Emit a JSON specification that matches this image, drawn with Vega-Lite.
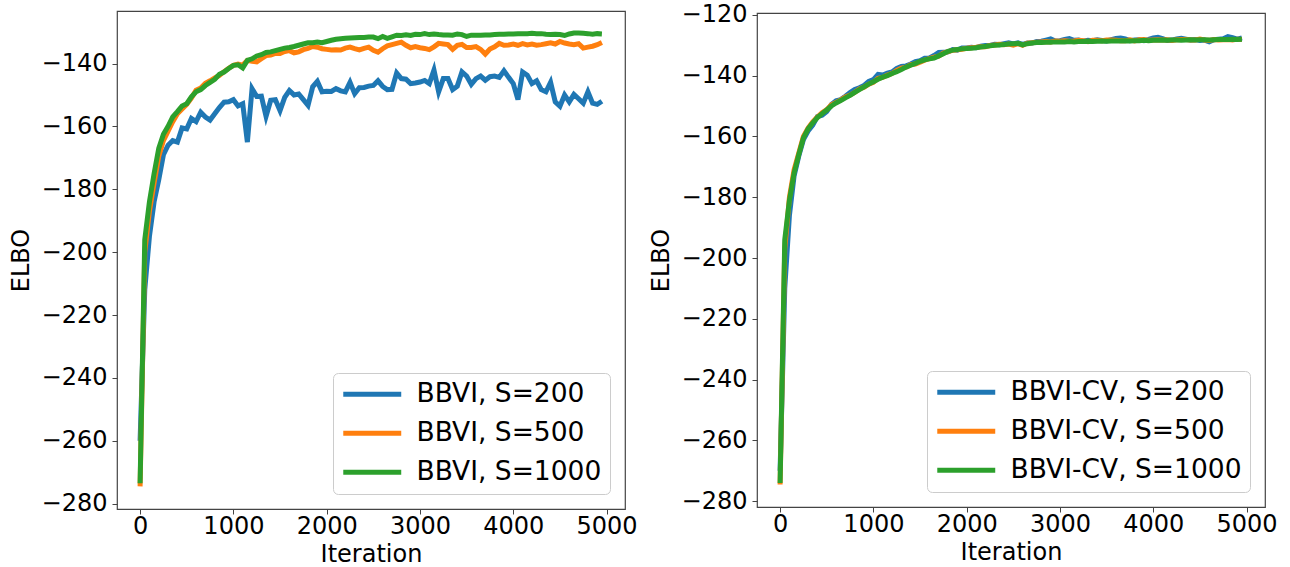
{
  "$schema": "https://vega.github.io/schema/vega-lite/v6.json",
  "padding": {"left": 8, "top": 2, "right": 5, "bottom": 5},
  "config": {
    "font": "DejaVu Sans",
    "view": {"stroke": "#444", "strokeWidth": 1.2},
    "axis": {"labelFontSize": 24, "titleFontSize": 24, "titleFontWeight": "normal", "labelColor": "#000", "titleColor": "#000", "domain": false, "grid": false, "tickColor": "#444", "tickSize": 5, "labelFlush": false, "labelOverlap": false},
    "axisY": {"titlePadding": 8, "labelPadding": 5},
    "axisX": {"titlePadding": 4, "labelPadding": 0},
    "legend": {"orient": "bottom-right", "offset": 15, "padding": 8, "fillColor": "#fff", "strokeColor": "#ccc", "cornerRadius": 5, "symbolType": "M-4,0H4", "symbolSize": 210, "symbolOffset": 18, "symbolStrokeWidth": 5, "labelFontSize": 26.5, "labelColor": "#000", "labelOffset": 31, "labelLimit": 400, "rowPadding": 12, "title": null},
    "concat": {"spacing": 132},
    "line": {"strokeWidth": 5}
  },
  "datasets": {
    "left": [
      {"iter":0,"BBVI, S=200":-260,"BBVI, S=500":-274.5,"BBVI, S=1000":-273.5},
      {"iter":50,"BBVI, S=200":-212,"BBVI, S=500":-200,"BBVI, S=1000":-196},
      {"iter":100,"BBVI, S=200":-195,"BBVI, S=500":-187,"BBVI, S=1000":-184},
      {"iter":150,"BBVI, S=200":-184,"BBVI, S=500":-178,"BBVI, S=1000":-175},
      {"iter":200,"BBVI, S=200":-177,"BBVI, S=500":-169.5,"BBVI, S=1000":-167},
      {"iter":250,"BBVI, S=200":-169,"BBVI, S=500":-164.5,"BBVI, S=1000":-162.5},
      {"iter":300,"BBVI, S=200":-166,"BBVI, S=500":-161.5,"BBVI, S=1000":-160},
      {"iter":350,"BBVI, S=200":-164.5,"BBVI, S=500":-158.5,"BBVI, S=1000":-157},
      {"iter":400,"BBVI, S=200":-165,"BBVI, S=500":-156,"BBVI, S=1000":-155.3},
      {"iter":450,"BBVI, S=200":-160.5,"BBVI, S=500":-154.5,"BBVI, S=1000":-153.5},
      {"iter":500,"BBVI, S=200":-160.8,"BBVI, S=500":-153,"BBVI, S=1000":-152.8},
      {"iter":550,"BBVI, S=200":-157.5,"BBVI, S=500":-151,"BBVI, S=1000":-150.6},
      {"iter":600,"BBVI, S=200":-158.5,"BBVI, S=500":-148.5,"BBVI, S=1000":-149},
      {"iter":650,"BBVI, S=200":-155.5,"BBVI, S=500":-147.8,"BBVI, S=1000":-148.3},
      {"iter":700,"BBVI, S=200":-157,"BBVI, S=500":-146.3,"BBVI, S=1000":-147},
      {"iter":750,"BBVI, S=200":-158,"BBVI, S=500":-145.5,"BBVI, S=1000":-146},
      {"iter":800,"BBVI, S=200":-156,"BBVI, S=500":-144.6,"BBVI, S=1000":-145},
      {"iter":850,"BBVI, S=200":-154,"BBVI, S=500":-143.8,"BBVI, S=1000":-143.4},
      {"iter":900,"BBVI, S=200":-152.3,"BBVI, S=500":-142.6,"BBVI, S=1000":-142.7},
      {"iter":950,"BBVI, S=200":-152.2,"BBVI, S=500":-141.5,"BBVI, S=1000":-141.6},
      {"iter":1000,"BBVI, S=200":-151.5,"BBVI, S=500":-140.6,"BBVI, S=1000":-140.6},
      {"iter":1050,"BBVI, S=200":-153.5,"BBVI, S=500":-140.2,"BBVI, S=1000":-140.4},
      {"iter":1100,"BBVI, S=200":-152.8,"BBVI, S=500":-140.5,"BBVI, S=1000":-141.4},
      {"iter":1150,"BBVI, S=200":-165,"BBVI, S=500":-139,"BBVI, S=1000":-139},
      {"iter":1200,"BBVI, S=200":-148,"BBVI, S=500":-139.3,"BBVI, S=1000":-138.5},
      {"iter":1250,"BBVI, S=200":-150.5,"BBVI, S=500":-139.5,"BBVI, S=1000":-137.6},
      {"iter":1300,"BBVI, S=200":-150.4,"BBVI, S=500":-138.5,"BBVI, S=1000":-137.2},
      {"iter":1350,"BBVI, S=200":-156.8,"BBVI, S=500":-137.5,"BBVI, S=1000":-136.5},
      {"iter":1400,"BBVI, S=200":-151.7,"BBVI, S=500":-137.3,"BBVI, S=1000":-136.3},
      {"iter":1450,"BBVI, S=200":-151.5,"BBVI, S=500":-136.8,"BBVI, S=1000":-135.9},
      {"iter":1500,"BBVI, S=200":-155,"BBVI, S=500":-136.8,"BBVI, S=1000":-135.5},
      {"iter":1550,"BBVI, S=200":-150.8,"BBVI, S=500":-136.2,"BBVI, S=1000":-135.1},
      {"iter":1600,"BBVI, S=200":-148.6,"BBVI, S=500":-135.9,"BBVI, S=1000":-134.9},
      {"iter":1650,"BBVI, S=200":-150,"BBVI, S=500":-136.6,"BBVI, S=1000":-134.6},
      {"iter":1700,"BBVI, S=200":-149.7,"BBVI, S=500":-136.3,"BBVI, S=1000":-134.2},
      {"iter":1750,"BBVI, S=200":-151.5,"BBVI, S=500":-135.6,"BBVI, S=1000":-133.8},
      {"iter":1800,"BBVI, S=200":-153.3,"BBVI, S=500":-135.2,"BBVI, S=1000":-133.4},
      {"iter":1850,"BBVI, S=200":-147.4,"BBVI, S=500":-134.6,"BBVI, S=1000":-133.4},
      {"iter":1900,"BBVI, S=200":-145.7,"BBVI, S=500":-134.8,"BBVI, S=1000":-133.2},
      {"iter":1950,"BBVI, S=200":-149,"BBVI, S=500":-135.3,"BBVI, S=1000":-133.4},
      {"iter":2000,"BBVI, S=200":-148.8,"BBVI, S=500":-135.5,"BBVI, S=1000":-133},
      {"iter":2050,"BBVI, S=200":-148.9,"BBVI, S=500":-135.7,"BBVI, S=1000":-132.6},
      {"iter":2100,"BBVI, S=200":-148,"BBVI, S=500":-135.6,"BBVI, S=1000":-132.3},
      {"iter":2150,"BBVI, S=200":-148.7,"BBVI, S=500":-135.7,"BBVI, S=1000":-132.1},
      {"iter":2200,"BBVI, S=200":-149,"BBVI, S=500":-135.1,"BBVI, S=1000":-132},
      {"iter":2250,"BBVI, S=200":-146,"BBVI, S=500":-134.8,"BBVI, S=1000":-131.9},
      {"iter":2300,"BBVI, S=200":-149.6,"BBVI, S=500":-135.3,"BBVI, S=1000":-131.8},
      {"iter":2350,"BBVI, S=200":-147.7,"BBVI, S=500":-135.7,"BBVI, S=1000":-131.7},
      {"iter":2400,"BBVI, S=200":-147.6,"BBVI, S=500":-135.2,"BBVI, S=1000":-131.7},
      {"iter":2450,"BBVI, S=200":-147.2,"BBVI, S=500":-134.8,"BBVI, S=1000":-131.6},
      {"iter":2500,"BBVI, S=200":-147,"BBVI, S=500":-135.8,"BBVI, S=1000":-131.6},
      {"iter":2550,"BBVI, S=200":-145.5,"BBVI, S=500":-136.4,"BBVI, S=1000":-132.1},
      {"iter":2600,"BBVI, S=200":-147.3,"BBVI, S=500":-135.3,"BBVI, S=1000":-131.4},
      {"iter":2650,"BBVI, S=200":-148.3,"BBVI, S=500":-134.4,"BBVI, S=1000":-132},
      {"iter":2700,"BBVI, S=200":-148.2,"BBVI, S=500":-134,"BBVI, S=1000":-131.5},
      {"iter":2750,"BBVI, S=200":-143,"BBVI, S=500":-133.6,"BBVI, S=1000":-131},
      {"iter":2800,"BBVI, S=200":-144.8,"BBVI, S=500":-133.2,"BBVI, S=1000":-131.1},
      {"iter":2850,"BBVI, S=200":-145,"BBVI, S=500":-134.2,"BBVI, S=1000":-130.9},
      {"iter":2900,"BBVI, S=200":-146.4,"BBVI, S=500":-135,"BBVI, S=1000":-131.1},
      {"iter":2950,"BBVI, S=200":-146.2,"BBVI, S=500":-134.6,"BBVI, S=1000":-130.7},
      {"iter":3000,"BBVI, S=200":-145.9,"BBVI, S=500":-135,"BBVI, S=1000":-130.8},
      {"iter":3050,"BBVI, S=200":-145.4,"BBVI, S=500":-135.2,"BBVI, S=1000":-130.5},
      {"iter":3100,"BBVI, S=200":-146.4,"BBVI, S=500":-135.6,"BBVI, S=1000":-130.8},
      {"iter":3150,"BBVI, S=200":-142.1,"BBVI, S=500":-134.7,"BBVI, S=1000":-130.6},
      {"iter":3200,"BBVI, S=200":-149,"BBVI, S=500":-133.6,"BBVI, S=1000":-130.8},
      {"iter":3250,"BBVI, S=200":-144.8,"BBVI, S=500":-133.8,"BBVI, S=1000":-130.9},
      {"iter":3300,"BBVI, S=200":-144.8,"BBVI, S=500":-134,"BBVI, S=1000":-130.9},
      {"iter":3350,"BBVI, S=200":-148.3,"BBVI, S=500":-135.5,"BBVI, S=1000":-131},
      {"iter":3400,"BBVI, S=200":-147.2,"BBVI, S=500":-134.2,"BBVI, S=1000":-130.6},
      {"iter":3450,"BBVI, S=200":-142.7,"BBVI, S=500":-133.9,"BBVI, S=1000":-130.8},
      {"iter":3500,"BBVI, S=200":-144,"BBVI, S=500":-134.9,"BBVI, S=1000":-131.4},
      {"iter":3550,"BBVI, S=200":-146.6,"BBVI, S=500":-134.9,"BBVI, S=1000":-131},
      {"iter":3600,"BBVI, S=200":-144.8,"BBVI, S=500":-134.6,"BBVI, S=1000":-131},
      {"iter":3650,"BBVI, S=200":-144,"BBVI, S=500":-135.5,"BBVI, S=1000":-131},
      {"iter":3700,"BBVI, S=200":-145.3,"BBVI, S=500":-137,"BBVI, S=1000":-130.9},
      {"iter":3750,"BBVI, S=200":-144.2,"BBVI, S=500":-135.4,"BBVI, S=1000":-130.9},
      {"iter":3800,"BBVI, S=200":-144,"BBVI, S=500":-134.7,"BBVI, S=1000":-130.8},
      {"iter":3850,"BBVI, S=200":-144.4,"BBVI, S=500":-133.6,"BBVI, S=1000":-130.7},
      {"iter":3900,"BBVI, S=200":-142.3,"BBVI, S=500":-134.2,"BBVI, S=1000":-130.7},
      {"iter":3950,"BBVI, S=200":-144.4,"BBVI, S=500":-134.1,"BBVI, S=1000":-130.6},
      {"iter":4000,"BBVI, S=200":-146.4,"BBVI, S=500":-133.8,"BBVI, S=1000":-130.6},
      {"iter":4050,"BBVI, S=200":-151.5,"BBVI, S=500":-134.2,"BBVI, S=1000":-130.5},
      {"iter":4100,"BBVI, S=200":-142.7,"BBVI, S=500":-133.7,"BBVI, S=1000":-130.5},
      {"iter":4150,"BBVI, S=200":-143.7,"BBVI, S=500":-134.1,"BBVI, S=1000":-130.5},
      {"iter":4200,"BBVI, S=200":-146.4,"BBVI, S=500":-133.8,"BBVI, S=1000":-130.4},
      {"iter":4250,"BBVI, S=200":-145.5,"BBVI, S=500":-134.2,"BBVI, S=1000":-130.5},
      {"iter":4300,"BBVI, S=200":-148.3,"BBVI, S=500":-134,"BBVI, S=1000":-130.5},
      {"iter":4350,"BBVI, S=200":-149,"BBVI, S=500":-133.7,"BBVI, S=1000":-130.7},
      {"iter":4400,"BBVI, S=200":-146,"BBVI, S=500":-133.4,"BBVI, S=1000":-130.8},
      {"iter":4450,"BBVI, S=200":-152.2,"BBVI, S=500":-133.8,"BBVI, S=1000":-130.7},
      {"iter":4500,"BBVI, S=200":-153.6,"BBVI, S=500":-133,"BBVI, S=1000":-130.8},
      {"iter":4550,"BBVI, S=200":-150,"BBVI, S=500":-133.5,"BBVI, S=1000":-131.1},
      {"iter":4600,"BBVI, S=200":-152.2,"BBVI, S=500":-133.8,"BBVI, S=1000":-130.6},
      {"iter":4650,"BBVI, S=200":-149.8,"BBVI, S=500":-134,"BBVI, S=1000":-130.3},
      {"iter":4700,"BBVI, S=200":-151.2,"BBVI, S=500":-133.7,"BBVI, S=1000":-130.3},
      {"iter":4750,"BBVI, S=200":-152.6,"BBVI, S=500":-135.1,"BBVI, S=1000":-130.4},
      {"iter":4800,"BBVI, S=200":-149,"BBVI, S=500":-134.8,"BBVI, S=1000":-130.5},
      {"iter":4850,"BBVI, S=200":-152.6,"BBVI, S=500":-134.5,"BBVI, S=1000":-130.7},
      {"iter":4900,"BBVI, S=200":-153,"BBVI, S=500":-134,"BBVI, S=1000":-130.5},
      {"iter":4950,"BBVI, S=200":-152,"BBVI, S=500":-133.3,"BBVI, S=1000":-130.6}
    ],
    "right": [
      {"iter":0,"BBVI-CV, S=200":-270,"BBVI-CV, S=500":-274.5,"BBVI-CV, S=1000":-274},
      {"iter":50,"BBVI-CV, S=200":-210,"BBVI-CV, S=500":-197,"BBVI-CV, S=1000":-194},
      {"iter":100,"BBVI-CV, S=200":-186,"BBVI-CV, S=500":-180,"BBVI-CV, S=1000":-181},
      {"iter":150,"BBVI-CV, S=200":-173,"BBVI-CV, S=500":-171,"BBVI-CV, S=1000":-172},
      {"iter":200,"BBVI-CV, S=200":-166.5,"BBVI-CV, S=500":-165.5,"BBVI-CV, S=1000":-166},
      {"iter":250,"BBVI-CV, S=200":-161,"BBVI-CV, S=500":-160,"BBVI-CV, S=1000":-160.5},
      {"iter":300,"BBVI-CV, S=200":-158.2,"BBVI-CV, S=500":-157.3,"BBVI-CV, S=1000":-157.5},
      {"iter":350,"BBVI-CV, S=200":-156.3,"BBVI-CV, S=500":-155.2,"BBVI-CV, S=1000":-155.5},
      {"iter":400,"BBVI-CV, S=200":-153.5,"BBVI-CV, S=500":-153.6,"BBVI-CV, S=1000":-153.8},
      {"iter":450,"BBVI-CV, S=200":-153,"BBVI-CV, S=500":-152.2,"BBVI-CV, S=1000":-152.5},
      {"iter":500,"BBVI-CV, S=200":-151.8,"BBVI-CV, S=500":-151.2,"BBVI-CV, S=1000":-151.3},
      {"iter":550,"BBVI-CV, S=200":-149.5,"BBVI-CV, S=500":-149.6,"BBVI-CV, S=1000":-150},
      {"iter":600,"BBVI-CV, S=200":-148.3,"BBVI-CV, S=500":-148.8,"BBVI-CV, S=1000":-149},
      {"iter":650,"BBVI-CV, S=200":-147.9,"BBVI-CV, S=500":-148,"BBVI-CV, S=1000":-148.2},
      {"iter":700,"BBVI-CV, S=200":-146.8,"BBVI-CV, S=500":-147,"BBVI-CV, S=1000":-147.3},
      {"iter":750,"BBVI-CV, S=200":-145.6,"BBVI-CV, S=500":-146.4,"BBVI-CV, S=1000":-146.5},
      {"iter":800,"BBVI-CV, S=200":-144.6,"BBVI-CV, S=500":-145.5,"BBVI-CV, S=1000":-145.5},
      {"iter":850,"BBVI-CV, S=200":-144,"BBVI-CV, S=500":-144.4,"BBVI-CV, S=1000":-144.6},
      {"iter":900,"BBVI-CV, S=200":-143.2,"BBVI-CV, S=500":-143.8,"BBVI-CV, S=1000":-143.7},
      {"iter":950,"BBVI-CV, S=200":-141.9,"BBVI-CV, S=500":-142.8,"BBVI-CV, S=1000":-142.8},
      {"iter":1000,"BBVI-CV, S=200":-141.3,"BBVI-CV, S=500":-142.2,"BBVI-CV, S=1000":-142},
      {"iter":1050,"BBVI-CV, S=200":-139.6,"BBVI-CV, S=500":-140.9,"BBVI-CV, S=1000":-141.2},
      {"iter":1100,"BBVI-CV, S=200":-139.8,"BBVI-CV, S=500":-140.6,"BBVI-CV, S=1000":-140.5},
      {"iter":1150,"BBVI-CV, S=200":-139.2,"BBVI-CV, S=500":-139.8,"BBVI-CV, S=1000":-140},
      {"iter":1200,"BBVI-CV, S=200":-138.8,"BBVI-CV, S=500":-139.3,"BBVI-CV, S=1000":-139.3},
      {"iter":1250,"BBVI-CV, S=200":-137.6,"BBVI-CV, S=500":-138.3,"BBVI-CV, S=1000":-138.7},
      {"iter":1300,"BBVI-CV, S=200":-137,"BBVI-CV, S=500":-137.5,"BBVI-CV, S=1000":-138},
      {"iter":1350,"BBVI-CV, S=200":-136.8,"BBVI-CV, S=500":-137.2,"BBVI-CV, S=1000":-137.2},
      {"iter":1400,"BBVI-CV, S=200":-136.2,"BBVI-CV, S=500":-136.4,"BBVI-CV, S=1000":-136.6},
      {"iter":1450,"BBVI-CV, S=200":-135.4,"BBVI-CV, S=500":-136.2,"BBVI-CV, S=1000":-136},
      {"iter":1500,"BBVI-CV, S=200":-135.1,"BBVI-CV, S=500":-135.6,"BBVI-CV, S=1000":-135.3},
      {"iter":1550,"BBVI-CV, S=200":-134.3,"BBVI-CV, S=500":-134.9,"BBVI-CV, S=1000":-134.8},
      {"iter":1600,"BBVI-CV, S=200":-134.2,"BBVI-CV, S=500":-134.4,"BBVI-CV, S=1000":-134.5},
      {"iter":1650,"BBVI-CV, S=200":-133.4,"BBVI-CV, S=500":-133.9,"BBVI-CV, S=1000":-134.2},
      {"iter":1700,"BBVI-CV, S=200":-132.4,"BBVI-CV, S=500":-133.6,"BBVI-CV, S=1000":-133.5},
      {"iter":1750,"BBVI-CV, S=200":-132.3,"BBVI-CV, S=500":-132.6,"BBVI-CV, S=1000":-132.8},
      {"iter":1800,"BBVI-CV, S=200":-132.2,"BBVI-CV, S=500":-132.1,"BBVI-CV, S=1000":-132},
      {"iter":1850,"BBVI-CV, S=200":-131.4,"BBVI-CV, S=500":-131.7,"BBVI-CV, S=1000":-131.6},
      {"iter":1900,"BBVI-CV, S=200":-131.6,"BBVI-CV, S=500":-131.5,"BBVI-CV, S=1000":-131.4},
      {"iter":1950,"BBVI-CV, S=200":-130.9,"BBVI-CV, S=500":-131.3,"BBVI-CV, S=1000":-131.2},
      {"iter":2000,"BBVI-CV, S=200":-130.9,"BBVI-CV, S=500":-131,"BBVI-CV, S=1000":-131.1},
      {"iter":2050,"BBVI-CV, S=200":-130.7,"BBVI-CV, S=500":-130.8,"BBVI-CV, S=1000":-131},
      {"iter":2100,"BBVI-CV, S=200":-130.8,"BBVI-CV, S=500":-130.7,"BBVI-CV, S=1000":-130.8},
      {"iter":2150,"BBVI-CV, S=200":-130.3,"BBVI-CV, S=500":-130.5,"BBVI-CV, S=1000":-130.6},
      {"iter":2200,"BBVI-CV, S=200":-130.1,"BBVI-CV, S=500":-130.5,"BBVI-CV, S=1000":-130.4},
      {"iter":2250,"BBVI-CV, S=200":-130.1,"BBVI-CV, S=500":-130.1,"BBVI-CV, S=1000":-130.2},
      {"iter":2300,"BBVI-CV, S=200":-129.7,"BBVI-CV, S=500":-129.9,"BBVI-CV, S=1000":-130},
      {"iter":2350,"BBVI-CV, S=200":-129.8,"BBVI-CV, S=500":-129.7,"BBVI-CV, S=1000":-129.9},
      {"iter":2400,"BBVI-CV, S=200":-129.5,"BBVI-CV, S=500":-129.8,"BBVI-CV, S=1000":-129.8},
      {"iter":2450,"BBVI-CV, S=200":-129.2,"BBVI-CV, S=500":-129.6,"BBVI-CV, S=1000":-129.6},
      {"iter":2500,"BBVI-CV, S=200":-129.6,"BBVI-CV, S=500":-130,"BBVI-CV, S=1000":-129.5},
      {"iter":2550,"BBVI-CV, S=200":-129.2,"BBVI-CV, S=500":-129.5,"BBVI-CV, S=1000":-129.4},
      {"iter":2600,"BBVI-CV, S=200":-129.7,"BBVI-CV, S=500":-130,"BBVI-CV, S=1000":-129.9},
      {"iter":2650,"BBVI-CV, S=200":-129.3,"BBVI-CV, S=500":-129.3,"BBVI-CV, S=1000":-129.5},
      {"iter":2700,"BBVI-CV, S=200":-129.3,"BBVI-CV, S=500":-129.2,"BBVI-CV, S=1000":-129.3},
      {"iter":2750,"BBVI-CV, S=200":-128.8,"BBVI-CV, S=500":-129,"BBVI-CV, S=1000":-129.1},
      {"iter":2800,"BBVI-CV, S=200":-128.7,"BBVI-CV, S=500":-128.9,"BBVI-CV, S=1000":-129.1},
      {"iter":2850,"BBVI-CV, S=200":-128.3,"BBVI-CV, S=500":-128.8,"BBVI-CV, S=1000":-129},
      {"iter":2900,"BBVI-CV, S=200":-127.9,"BBVI-CV, S=500":-128.9,"BBVI-CV, S=1000":-129},
      {"iter":2950,"BBVI-CV, S=200":-128.6,"BBVI-CV, S=500":-128.6,"BBVI-CV, S=1000":-128.9},
      {"iter":3000,"BBVI-CV, S=200":-128.5,"BBVI-CV, S=500":-128.7,"BBVI-CV, S=1000":-128.9},
      {"iter":3050,"BBVI-CV, S=200":-128.1,"BBVI-CV, S=500":-128.5,"BBVI-CV, S=1000":-128.9},
      {"iter":3100,"BBVI-CV, S=200":-127.8,"BBVI-CV, S=500":-128.7,"BBVI-CV, S=1000":-128.8},
      {"iter":3150,"BBVI-CV, S=200":-128.4,"BBVI-CV, S=500":-128.6,"BBVI-CV, S=1000":-128.9},
      {"iter":3200,"BBVI-CV, S=200":-128.3,"BBVI-CV, S=500":-128.4,"BBVI-CV, S=1000":-128.8},
      {"iter":3250,"BBVI-CV, S=200":-128.7,"BBVI-CV, S=500":-128.5,"BBVI-CV, S=1000":-128.8},
      {"iter":3300,"BBVI-CV, S=200":-128.4,"BBVI-CV, S=500":-128.8,"BBVI-CV, S=1000":-128.7},
      {"iter":3350,"BBVI-CV, S=200":-128.5,"BBVI-CV, S=500":-128.4,"BBVI-CV, S=1000":-128.8},
      {"iter":3400,"BBVI-CV, S=200":-128.2,"BBVI-CV, S=500":-128.4,"BBVI-CV, S=1000":-128.7},
      {"iter":3450,"BBVI-CV, S=200":-128.4,"BBVI-CV, S=500":-128.5,"BBVI-CV, S=1000":-128.6},
      {"iter":3500,"BBVI-CV, S=200":-128.6,"BBVI-CV, S=500":-128.3,"BBVI-CV, S=1000":-128.7},
      {"iter":3550,"BBVI-CV, S=200":-128.2,"BBVI-CV, S=500":-128.3,"BBVI-CV, S=1000":-128.6},
      {"iter":3600,"BBVI-CV, S=200":-127.8,"BBVI-CV, S=500":-128.4,"BBVI-CV, S=1000":-128.6},
      {"iter":3650,"BBVI-CV, S=200":-127.6,"BBVI-CV, S=500":-128.5,"BBVI-CV, S=1000":-128.6},
      {"iter":3700,"BBVI-CV, S=200":-127.9,"BBVI-CV, S=500":-128.5,"BBVI-CV, S=1000":-128.5},
      {"iter":3750,"BBVI-CV, S=200":-128.5,"BBVI-CV, S=500":-128.2,"BBVI-CV, S=1000":-128.6},
      {"iter":3800,"BBVI-CV, S=200":-128.3,"BBVI-CV, S=500":-128.6,"BBVI-CV, S=1000":-128.5},
      {"iter":3850,"BBVI-CV, S=200":-128.2,"BBVI-CV, S=500":-128.2,"BBVI-CV, S=1000":-128.5},
      {"iter":3900,"BBVI-CV, S=200":-128.5,"BBVI-CV, S=500":-128.1,"BBVI-CV, S=1000":-128.4},
      {"iter":3950,"BBVI-CV, S=200":-128.1,"BBVI-CV, S=500":-128.4,"BBVI-CV, S=1000":-128.5},
      {"iter":4000,"BBVI-CV, S=200":-127.6,"BBVI-CV, S=500":-128.3,"BBVI-CV, S=1000":-128.4},
      {"iter":4050,"BBVI-CV, S=200":-127.4,"BBVI-CV, S=500":-128.2,"BBVI-CV, S=1000":-128.4},
      {"iter":4100,"BBVI-CV, S=200":-127.8,"BBVI-CV, S=500":-128.3,"BBVI-CV, S=1000":-128.3},
      {"iter":4150,"BBVI-CV, S=200":-128.4,"BBVI-CV, S=500":-128.2,"BBVI-CV, S=1000":-128.4},
      {"iter":4200,"BBVI-CV, S=200":-128.3,"BBVI-CV, S=500":-128.4,"BBVI-CV, S=1000":-128.3},
      {"iter":4250,"BBVI-CV, S=200":-127.9,"BBVI-CV, S=500":-128.2,"BBVI-CV, S=1000":-128.3},
      {"iter":4300,"BBVI-CV, S=200":-127.7,"BBVI-CV, S=500":-128.1,"BBVI-CV, S=1000":-128.4},
      {"iter":4350,"BBVI-CV, S=200":-128,"BBVI-CV, S=500":-128.1,"BBVI-CV, S=1000":-128.3},
      {"iter":4400,"BBVI-CV, S=200":-128.3,"BBVI-CV, S=500":-128.3,"BBVI-CV, S=1000":-128.2},
      {"iter":4450,"BBVI-CV, S=200":-128.1,"BBVI-CV, S=500":-128.3,"BBVI-CV, S=1000":-128.3},
      {"iter":4500,"BBVI-CV, S=200":-128.4,"BBVI-CV, S=500":-128,"BBVI-CV, S=1000":-128.2},
      {"iter":4550,"BBVI-CV, S=200":-128.3,"BBVI-CV, S=500":-128.3,"BBVI-CV, S=1000":-128.2},
      {"iter":4600,"BBVI-CV, S=200":-128.9,"BBVI-CV, S=500":-128.4,"BBVI-CV, S=1000":-128.3},
      {"iter":4650,"BBVI-CV, S=200":-128.2,"BBVI-CV, S=500":-128.1,"BBVI-CV, S=1000":-128.2},
      {"iter":4700,"BBVI-CV, S=200":-128,"BBVI-CV, S=500":-128.3,"BBVI-CV, S=1000":-128.1},
      {"iter":4750,"BBVI-CV, S=200":-127.9,"BBVI-CV, S=500":-128.2,"BBVI-CV, S=1000":-128.1},
      {"iter":4800,"BBVI-CV, S=200":-127.2,"BBVI-CV, S=500":-128.1,"BBVI-CV, S=1000":-128.1},
      {"iter":4850,"BBVI-CV, S=200":-127.5,"BBVI-CV, S=500":-128.3,"BBVI-CV, S=1000":-128},
      {"iter":4900,"BBVI-CV, S=200":-128,"BBVI-CV, S=500":-128,"BBVI-CV, S=1000":-128.1},
      {"iter":4950,"BBVI-CV, S=200":-127.6,"BBVI-CV, S=500":-128.1,"BBVI-CV, S=1000":-128}
    ]
  },
  "bounds": "flush",
  "center": true,
  "resolve": {"scale": {"color": "independent"}},
  "hconcat": [
    {
      "width": 508,
      "height": 498,
      "data": {"name": "left"},
      "transform": [{"fold": ["BBVI, S=200", "BBVI, S=500", "BBVI, S=1000"], "as": ["series", "elbo"]}],
      "mark": {"type": "line", "clip": true},
      "encoding": {
        "x": {"field": "iter", "type": "quantitative", "title": "Iteration", "scale": {"domain": [-247.5, 5197.5], "nice": false, "zero": false}, "axis": {"values": [0, 1000, 2000, 3000, 4000, 5000], "format": "d"}},
        "y": {"field": "elbo", "type": "quantitative", "title": "ELBO", "scale": {"domain": [-281.7, -123.3], "nice": false, "zero": false}, "axis": {"values": [-280, -260, -240, -220, -200, -180, -160, -140], "format": "d"}},
        "color": {"field": "series", "type": "nominal", "scale": {"domain": ["BBVI, S=200", "BBVI, S=500", "BBVI, S=1000"], "range": ["#1f77b4", "#ff7f0e", "#2ca02c"]}, "legend": {"title": null}},
        "order": {"field": "iter", "type": "quantitative"}
      }
    },
    {
      "width": 508,
      "height": 494,
      "data": {"name": "right"},
      "transform": [{"fold": ["BBVI-CV, S=200", "BBVI-CV, S=500", "BBVI-CV, S=1000"], "as": ["series", "elbo"]}],
      "mark": {"type": "line", "clip": true},
      "encoding": {
        "x": {"field": "iter", "type": "quantitative", "title": "Iteration", "scale": {"domain": [-247.5, 5197.5], "nice": false, "zero": false}, "axis": {"values": [0, 1000, 2000, 3000, 4000, 5000], "format": "d"}},
        "y": {"field": "elbo", "type": "quantitative", "title": "ELBO", "scale": {"domain": [-281.9, -119.4], "nice": false, "zero": false}, "axis": {"values": [-280, -260, -240, -220, -200, -180, -160, -140, -120], "format": "d"}},
        "color": {"field": "series", "type": "nominal", "scale": {"domain": ["BBVI-CV, S=200", "BBVI-CV, S=500", "BBVI-CV, S=1000"], "range": ["#1f77b4", "#ff7f0e", "#2ca02c"]}, "legend": {"title": null}},
        "order": {"field": "iter", "type": "quantitative"}
      }
    }
  ]
}
